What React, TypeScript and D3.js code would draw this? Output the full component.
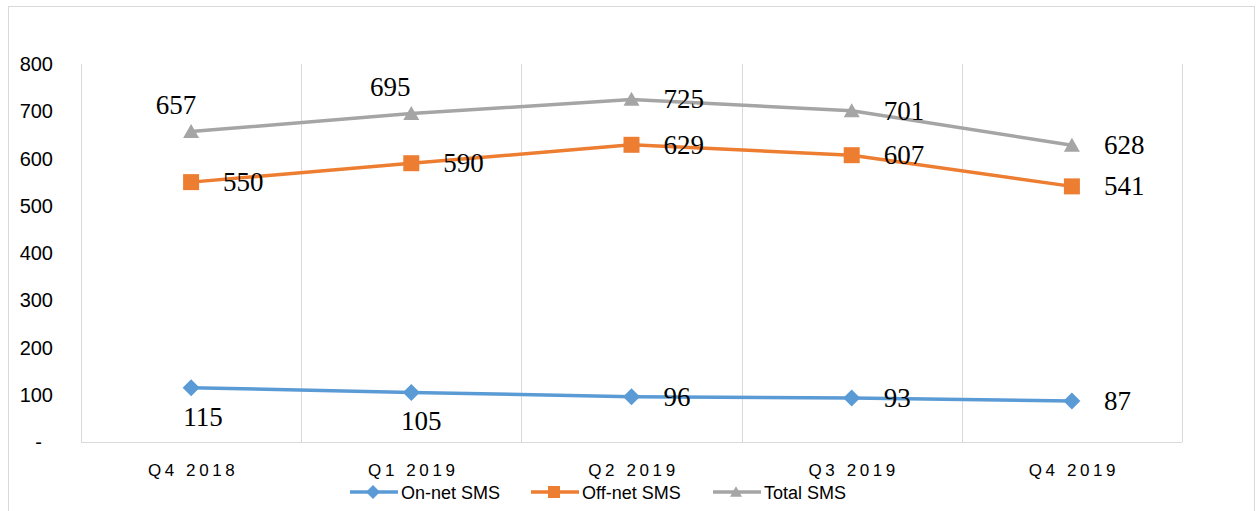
import React, { useRef, useEffect } from 'react';
import * as d3 from 'd3';

const quarters = ['Q4 2018', 'Q1 2019', 'Q2 2019', 'Q3 2019', 'Q4 2019'];
const onNet = [115, 105, 96, 93, 87];
const offNet = [550, 590, 629, 607, 541];
const total = [657, 695, 725, 701, 628];
const yTicks = [0, 100, 200, 300, 400, 500, 600, 700, 800];

// where each data label sits relative to its point
const onNetLabels = ['below', 'below', 'right', 'right', 'right'];
const offNetLabels = ['right', 'right', 'right', 'right', 'right'];
const totalLabels = ['above', 'above', 'right', 'right', 'right'];

const series = [
  { name: 'On-net SMS', values: onNet, color: '#5B9BD5', marker: 'diamond', labels: onNetLabels, nudge: [12, 10, 0, 0, 0] },
  { name: 'Off-net SMS', values: offNet, color: '#ED7D31', marker: 'square', labels: offNetLabels, nudge: [0, 0, 0, 0, 0] },
  { name: 'Total SMS', values: total, color: '#A5A5A5', marker: 'triangle', labels: totalLabels, nudge: [-15, -21, 0, 0, 0] },
];

const markerPath = (type, s) => {
  if (type === 'diamond') return `M0,${-s}L${s},0L0,${s}L${-s},0Z`;
  if (type === 'square') return `M${-s},${-s}H${s}V${s}H${-s}Z`;
  return `M0,${-s * 0.95}L${s},${s * 0.8}L${-s},${s * 0.8}Z`;
};

const App = () => {
  const svgRef = useRef();

  useEffect(() => {
    const width = 1256;
    const height = 511;
    const margin = { top: 64, right: 74, bottom: 69, left: 81 };

    const svg = d3.select(svgRef.current);
    svg.selectAll('*').remove();
    svg.attr('width', width).attr('height', height);

    const sans = '"Liberation Sans", Arial, sans-serif';
    const serif = '"Liberation Serif", "Times New Roman", serif';

    svg.append('rect')
      .attr('x', 8.5).attr('y', 6.5)
      .attr('width', 1246).attr('height', 530)
      .attr('fill', '#fff').attr('stroke', '#d9d9d9');

    const x = d3.scaleBand()
      .domain(quarters)
      .range([margin.left, width - margin.right]);

    const y = d3.scaleLinear()
      .domain([0, 800])
      .range([height - margin.bottom, margin.top]);

    const cx = (q) => x(q) + x.bandwidth() / 2;

    // vertical gridlines at category boundaries
    const bounds = quarters.map((q) => x(q)).concat([width - margin.right]);
    svg.append('g')
      .selectAll('line')
      .data(bounds)
      .join('line')
      .attr('x1', (d) => Math.round(d) + 0.5)
      .attr('x2', (d) => Math.round(d) + 0.5)
      .attr('y1', y(800))
      .attr('y2', y(0))
      .attr('stroke', '#d9d9d9');

    svg.append('line')
      .attr('x1', margin.left).attr('x2', width - margin.right)
      .attr('y1', Math.round(y(0)) + 0.5).attr('y2', Math.round(y(0)) + 0.5)
      .attr('stroke', '#d9d9d9');

    // y labels
    svg.append('g')
      .selectAll('text')
      .data(yTicks)
      .join('text')
      .attr('x', (d) => (d === 0 ? 42 : 53))
      .attr('y', (d) => y(d))
      .attr('dy', '0.36em')
      .attr('text-anchor', 'end')
      .attr('font-family', sans)
      .attr('font-size', 20)
      .attr('fill', '#000')
      .text((d) => (d === 0 ? '-' : d));

    // x labels
    svg.append('g')
      .selectAll('text')
      .data(quarters)
      .join('text')
      .attr('x', (d) => cx(d) + 2)
      .attr('y', 476)
      .attr('text-anchor', 'middle')
      .attr('font-family', sans)
      .attr('font-size', 17)
      .attr('letter-spacing', 3.6)
      .attr('fill', '#000')
      .text((d) => d);

    const line = d3.line()
      .x((d, i) => cx(quarters[i]))
      .y((d) => y(d));

    series.forEach((s) => {
      svg.append('path')
        .attr('d', line(s.values))
        .attr('fill', 'none')
        .attr('stroke', s.color)
        .attr('stroke-width', 3.5)
        .attr('stroke-linejoin', 'round');

      svg.append('g')
        .selectAll('path')
        .data(s.values)
        .join('path')
        .attr('transform', (d, i) => `translate(${cx(quarters[i])},${y(d)})`)
        .attr('d', markerPath(s.marker, s.marker === 'diamond' ? 8.5 : 8))
        .attr('fill', s.color);

      svg.append('g')
        .selectAll('text')
        .data(s.values)
        .join('text')
        .attr('x', (d, i) => {
          const px = cx(quarters[i]);
          return s.labels[i] === 'right' ? px + 32 : px + s.nudge[i];
        })
        .attr('y', (d, i) => {
          const py = y(d);
          if (s.labels[i] === 'above') return py - 18;
          if (s.labels[i] === 'below') return py + 38;
          return py + 9;
        })
        .attr('text-anchor', (d, i) => (s.labels[i] === 'right' ? 'start' : 'middle'))
        .attr('font-family', serif)
        .attr('font-size', 27)
        .attr('fill', '#000')
        .text((d) => d);
    });

    // legend
    const legendX = [350, 531, 713];
    series.forEach((s, i) => {
      const g = svg.append('g').attr('transform', `translate(${legendX[i]}, 492)`);
      g.append('line')
        .attr('x1', 0).attr('x2', 48)
        .attr('stroke', s.color).attr('stroke-width', 3.5);
      g.append('path')
        .attr('transform', 'translate(23,0)')
        .attr('d', markerPath(s.marker, s.marker === 'diamond' ? 7 : 6))
        .attr('fill', s.color);
      g.append('text')
        .attr('x', 51).attr('y', 6.5)
        .attr('font-family', sans)
        .attr('font-size', 18)
        .attr('fill', '#000')
        .text(s.name);
    });
  }, []);

  return (
    <svg ref={svgRef} style={{ position: 'absolute', left: 0, top: 0, background: '#fff' }} />
  );
};

export default App;
